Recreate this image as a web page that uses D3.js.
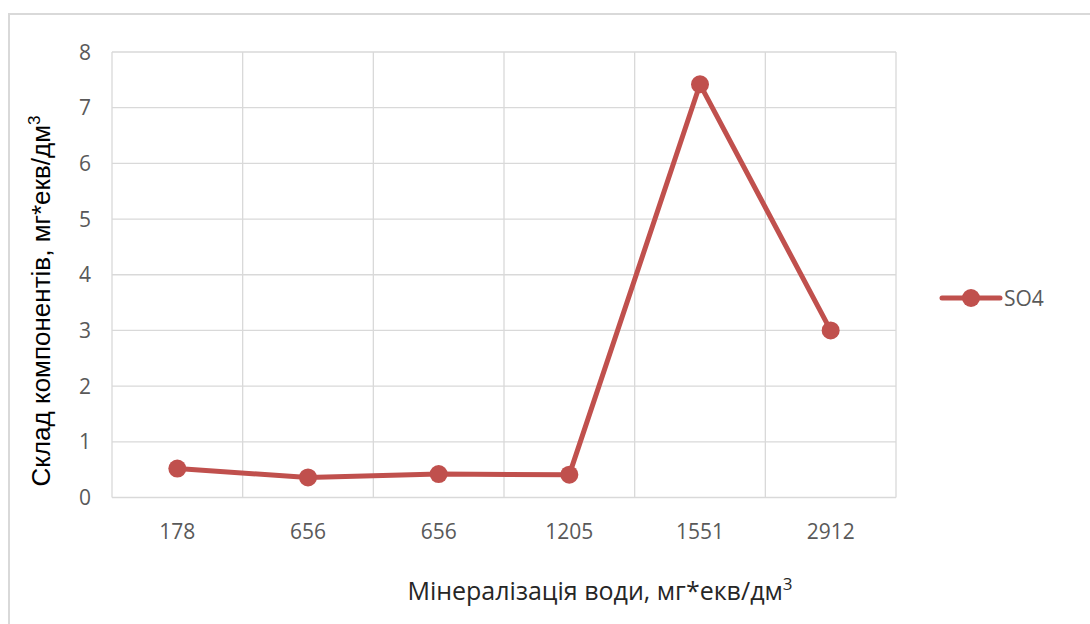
<!DOCTYPE html>
<html>
<head>
<meta charset="utf-8">
<script src="https://cdn.jsdelivr.net/npm/d3@7"></script>
<style>
  body { margin: 0; background: #fff; }
  svg { display: block; }
</style>
</head>
<body>
<svg id="chart" width="1090" height="624"></svg>
<script>
'use strict';

var categories = ['178', '656', '656 ', '1205', '1551', '2912'];
var tickLabels = ['178', '656', '656', '1205', '1551', '2912'];
var so4Values = [0.52, 0.36, 0.42, 0.41, 7.42, 3.0];
var yTicks = [0, 1, 2, 3, 4, 5, 6, 7, 8];
var seriesName = 'SO4';

var W = 1090, H = 624;
var plot = { left: 112, top: 52, right: 896, bottom: 497.5 };
var RED = '#C0504D';
var GRID = '#d9d9d9';
var LABEL = '#595959';

var svg = d3.select('#chart');

// chart frame
svg.append('rect')
    .attr('x', 9).attr('y', 14)
    .attr('width', W + 20).attr('height', H + 20)
    .attr('fill', '#fff')
    .attr('stroke', GRID)
    .attr('stroke-width', 2);

var x = d3.scaleBand()
    .domain(categories)
    .range([plot.left, plot.right]);

var y = d3.scaleLinear()
    .domain([0, 8])
    .range([plot.bottom, plot.top]);

// horizontal gridlines
svg.append('g')
    .selectAll('line')
    .data(yTicks)
    .join('line')
    .attr('x1', plot.left).attr('x2', plot.right)
    .attr('y1', function(d) { return y(d); })
    .attr('y2', function(d) { return y(d); })
    .attr('stroke', GRID)
    .attr('stroke-width', 1.3);

// vertical gridlines at category boundaries
var bounds = categories.map(function(c) { return x(c); }).concat([plot.right]);
svg.append('g')
    .selectAll('line')
    .data(bounds)
    .join('line')
    .attr('x1', function(d) { return d; })
    .attr('x2', function(d) { return d; })
    .attr('y1', plot.top).attr('y2', plot.bottom)
    .attr('stroke', GRID)
    .attr('stroke-width', 1.3);

// y tick labels
svg.append('g')
    .selectAll('text')
    .data(yTicks)
    .join('text')
    .attr('x', 91)
    .attr('y', function(d) { return y(d); })
    .attr('dy', '0.36em')
    .attr('text-anchor', 'end')
    .attr('fill', LABEL)
    .style('font-family', '"Open Sans", sans-serif')
    .style('font-size', '21px')
    .text(function(d) { return d; });

// x tick labels
svg.append('g')
    .selectAll('text')
    .data(categories)
    .join('text')
    .attr('x', function(d) { return x(d) + x.bandwidth() / 2; })
    .attr('y', 531)
    .attr('dy', '0.36em')
    .attr('text-anchor', 'middle')
    .attr('fill', LABEL)
    .style('font-family', '"Open Sans", sans-serif')
    .style('font-size', '21px')
    .text(function(d, i) { return tickLabels[i]; });

// series line
var line = d3.line()
    .x(function(d, i) { return x(categories[i]) + x.bandwidth() / 2; })
    .y(function(d) { return y(d); });

svg.append('path')
    .datum(so4Values)
    .attr('d', line)
    .attr('fill', 'none')
    .attr('stroke', RED)
    .attr('stroke-width', 5)
    .attr('stroke-linejoin', 'round');

svg.append('g')
    .selectAll('circle')
    .data(so4Values)
    .join('circle')
    .attr('cx', function(d, i) { return x(categories[i]) + x.bandwidth() / 2; })
    .attr('cy', function(d) { return y(d); })
    .attr('r', 9)
    .attr('fill', RED);

// axis titles
svg.append('text')
    .attr('transform', 'translate(50,301) rotate(-90)')
    .attr('text-anchor', 'middle')
    .attr('fill', '#000')
    .style('font-family', '"Liberation Sans", Arial, sans-serif')
    .style('font-size', '26px')
    .html('Склад компонентів, мг*екв/дм<tspan dy="-10" font-size="17px">3</tspan>');

svg.append('text')
    .attr('x', 600)
    .attr('y', 600)
    .attr('text-anchor', 'middle')
    .attr('fill', '#262626')
    .style('font-family', '"Open Sans", sans-serif')
    .style('font-size', '25px')
    .html('Мінералізація води, мг*екв/дм<tspan dy="-10" font-size="17px">3</tspan>');

// legend
var legend = svg.append('g').attr('transform', 'translate(942,298)');
legend.append('line')
    .attr('x1', 0).attr('x2', 58)
    .attr('stroke', RED)
    .attr('stroke-width', 5)
    .attr('stroke-linecap', 'round');
legend.append('circle')
    .attr('cx', 29).attr('r', 9)
    .attr('fill', RED);
legend.append('text')
    .attr('x', 62)
    .attr('dy', '0.36em')
    .attr('fill', LABEL)
    .style('font-family', '"Open Sans", sans-serif')
    .style('font-size', '21px')
    .text(seriesName);
</script>
</body>
</html>
